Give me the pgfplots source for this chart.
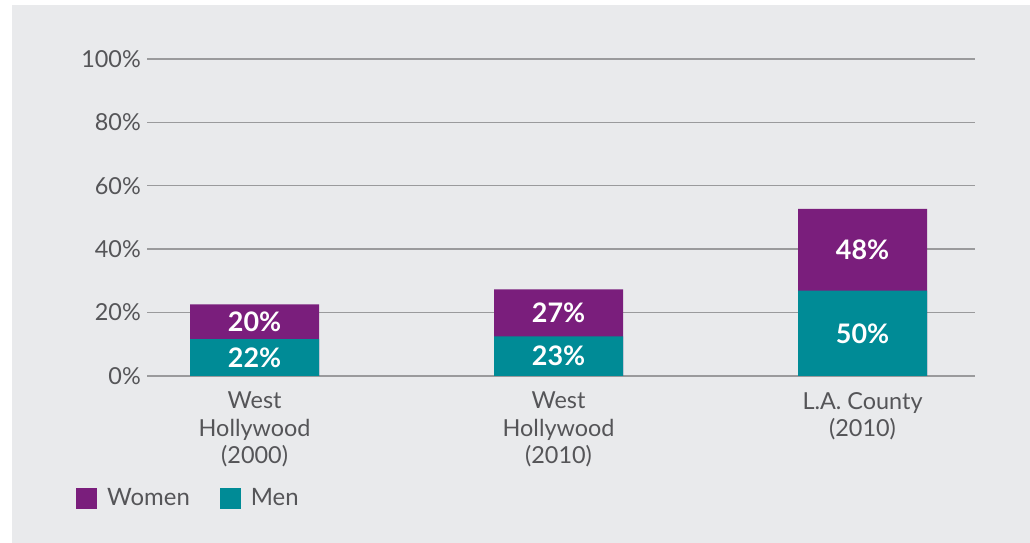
\documentclass[border=0pt]{standalone}
\usepackage{pgfplots}
\pgfplotsset{compat=1.18}
\usepackage{pgfplotstable}
\usepackage{fontspec}
\setmainfont{Lato}

\definecolor{bg}{HTML}{E9EAEC}
\definecolor{women}{HTML}{7A1E7C}
\definecolor{men}{HTML}{008B96}
\definecolor{txt}{HTML}{555558}
\definecolor{gridc}{HTML}{9A9A9C}

% bar segment heights, labels as printed
\pgfplotstableread{
x men women menlab womenlab
0 11.6 11.0 22 20
1 12.5 14.8 23 27
2 26.9 25.8 50 48
}\shares

\begin{document}
\begin{tikzpicture}
\useasboundingbox (0,0) rectangle (1030bp,543bp);
\fill[white] (0,0) rectangle (1030bp,543bp);
\fill[bg] (12bp,0) rectangle (1030bp,538bp);
\begin{axis}[
  at={(147bp,167bp)}, anchor=south west,
  scale only axis, width=828bp, height=317bp,
  xmin=-0.354, xmax=2.37, ymin=0, ymax=100,
  axis line style={draw=none},
  major tick length=0pt,
  ytick={0,20,40,60,80,100},
  yticklabel={\pgfmathprintnumber{\tick}\%},
  /pgf/number format/assume math mode=true,
  ymajorgrids, grid style={gridc, line width=1.4bp},
  xtick={0,1,2},
  xticklabels={West\\Hollywood\\(2000), West\\Hollywood\\(2010), L.A. County\\(2010)},
  tick label style={font=\fontsize{23.5}{27.5}\selectfont, text=txt, inner sep=0pt},
  yticklabel style={xshift=-6bp},
  xticklabel style={align=center, yshift=-16bp},
  legend columns=-1,
  legend style={at={(-0.0857,-0.385)}, anchor=west, draw=none, fill=none,
    inner sep=0pt, font=\fontsize{24}{28}\selectfont, text=txt,
    /tikz/every odd column/.append style={column sep=10bp},
    /tikz/every even column/.append style={column sep=30bp},
    nodes={inner sep=0pt}},
  legend image code/.code={\path[#1] (0bp,-10.5bp) rectangle (21bp,10.5bp);},
  bar shift=0pt,
]
\addplot[ybar, bar width=129bp, fill=women, draw=none]
  table[x=x, y expr=\thisrow{men}+\thisrow{women}] {\shares};
\addlegendentry{Women}
\addplot[ybar, bar width=129bp, fill=men, draw=none]
  table[x=x, y=men] {\shares};
\addlegendentry{Men}
% centred value labels
\addplot[draw=none, mark=none, forget plot, point meta=explicit,
  nodes near coords={\pgfmathprintnumber{\pgfplotspointmeta}\%},
  every node near coord/.style={anchor=center, text=white,
    font=\fontsize{27}{32}\bfseries}]
  table[x=x, y expr=\thisrow{men}/2, meta=menlab] {\shares};
\addplot[draw=none, mark=none, forget plot, point meta=explicit,
  nodes near coords={\pgfmathprintnumber{\pgfplotspointmeta}\%},
  every node near coord/.style={anchor=center, text=white,
    font=\fontsize{27}{32}\bfseries}]
  table[x=x, y expr=\thisrow{men}+\thisrow{women}/2, meta=womenlab] {\shares};
\end{axis}
\end{tikzpicture}
\end{document}
